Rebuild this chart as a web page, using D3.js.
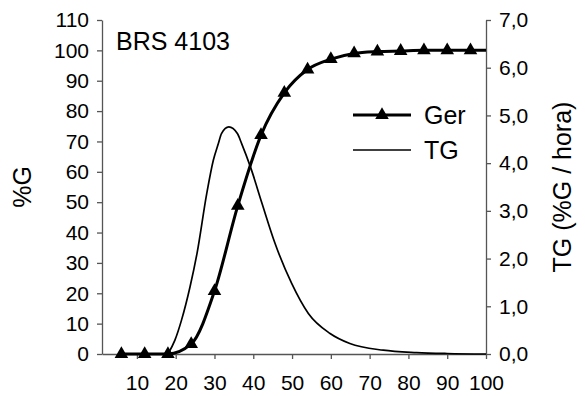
<!DOCTYPE html>
<html>
<head>
<meta charset="utf-8">
<script src="https://cdn.jsdelivr.net/npm/d3@7"></script>
<style>
  html, body { margin: 0; padding: 0; background: #fff; }
  #chart { width: 585px; height: 396px; }
  text { font-family: "Liberation Sans", Arial, sans-serif; fill: #000; }
  .axis path, .axis line { stroke: #555; stroke-width: 1.3; }
  .axis text { font-size: 21px; }
</style>
</head>
<body>
<div id="chart"></div>
<script>
// germination (%G) observed every 6 h
const gerHours = [6, 12, 18, 24, 30, 36, 42, 48, 54, 60, 66, 72, 78, 84, 90, 96];
const gerValues = [0, 0, 0, 3.3, 20.7, 48.8, 72.1, 86, 93.7, 97.1, 99, 99.6, 99.8, 100, 100, 100];
// the fitted Ger line runs on to the end of the axis
const gerEndHour = 100;
const gerEndValue = 100;

// germination rate TG (%G / hora)
const tgHours = [18, 19.8, 21.5, 23.7, 25.5, 28, 29.7, 31, 31.8, 33.7, 35.9, 37, 39.4, 42.2, 45.6, 49.9, 54.2, 59.8, 64.9, 73.5, 82.1, 90, 100];
const tgValues = [0, 0.29, 0.71, 1.41, 2.11, 3.36, 4.06, 4.41, 4.62, 4.76, 4.62, 4.41, 3.89, 3.17, 2.32, 1.48, 0.85, 0.43, 0.22, 0.08, 0.03, 0.01, 0];

const xTicks = [10, 20, 30, 40, 50, 60, 70, 80, 90, 100];
const leftTicks = [0, 10, 20, 30, 40, 50, 60, 70, 80, 90, 100, 110];
const rightTicks = [0, 1, 2, 3, 4, 5, 6, 7];

const title = "BRS 4103";

class GermChart {
  constructor(el) {
    this.el = el;
    this.initChart();
    this.updateChart();
  }

  initChart() {
    const that = this;
    d3.select(`#${this.el} svg`).remove();

    const width = 585;
    const height = 396;
    const margin = { left: 102, right: 99, top: 20, bottom: 42 };

    that.innerWidth = width - margin.left - margin.right;
    that.innerHeight = height - margin.top - margin.bottom;

    const svg = d3
      .select(`#${this.el}`)
      .append("svg")
      .attr("width", width)
      .attr("height", height);

    that.svg = svg;
    that.mainGroup = svg
      .append("g")
      .attr("class", "mainGroup")
      .attr("transform", `translate(${margin.left},${margin.top})`);

    that.xScale = d3.scaleLinear().domain([1, 100]).range([0, that.innerWidth]);
    that.yScale = d3.scaleLinear().domain([0, 110]).range([that.innerHeight, 0]);
    that.y2Scale = d3.scaleLinear().domain([0, 7]).range([that.innerHeight, 0]);

    that.xAxis = d3.axisBottom(that.xScale).tickValues(xTicks).tickSize(5).tickPadding(16).tickSizeOuter(0);
    that.yAxis = d3.axisLeft(that.yScale).tickValues(leftTicks).tickSize(5).tickPadding(8).tickSizeOuter(0);
    that.y2Axis = d3
      .axisRight(that.y2Scale)
      .tickValues(rightTicks)
      .tickSize(5)
      .tickPadding(8)
      .tickSizeOuter(0)
      .tickFormat((d) => d3.format(".1f")(d).replace(".", ","));

    that.mainGroup.append("g").attr("class", "y-axis axis");
    that.mainGroup
      .append("g")
      .attr("class", "y2-axis axis")
      .attr("transform", `translate(${that.innerWidth},0)`);
    that.mainGroup
      .append("g")
      .attr("class", "x-axis axis")
      .attr("transform", `translate(0,${that.innerHeight})`);

    // axis titles
    svg
      .append("text")
      .attr("transform", `translate(22,${margin.top + that.innerHeight / 2}) rotate(-90)`)
      .attr("text-anchor", "middle")
      .attr("dy", "0.35em")
      .style("font-size", "25px")
      .text("%G");

    svg
      .append("text")
      .attr("transform", `translate(562,${margin.top + that.innerHeight / 2}) rotate(-90)`)
      .attr("text-anchor", "middle")
      .attr("dy", "0.35em")
      .style("font-size", "25px")
      .text("TG (%G / hora)");

    svg
      .append("text")
      .attr("x", 116)
      .attr("y", 50)
      .style("font-size", "25px")
      .text(title);
  }

  updateChart() {
    const that = this;
    const g = that.mainGroup;

    const gerLine = d3
      .line()
      .x((d) => that.xScale(d[0]))
      .y((d) => that.yScale(d[1]))
      .curve(d3.curveMonotoneX);

    const tgLine = d3
      .line()
      .x((d) => that.xScale(d[0]))
      .y((d) => that.y2Scale(d[1]))
      .curve(d3.curveMonotoneX);

    const gerPts = gerHours.map((h, i) => [h, gerValues[i]]);
    const tgPts = tgHours.map((h, i) => [h, tgValues[i]]);

    g.append("path")
      .attr("class", "tg")
      .attr("d", tgLine(tgPts))
      .attr("fill", "none")
      .attr("stroke", "#000")
      .attr("stroke-width", 1.7);

    g.append("path")
      .attr("class", "ger")
      .attr("d", gerLine(gerPts.concat([[gerEndHour, gerEndValue]])))
      .attr("fill", "none")
      .attr("stroke", "#000")
      .attr("stroke-width", 3);

    const tri = d3.symbol().type(d3.symbolTriangle).size(80);

    g.selectAll(".mark")
      .data(gerPts)
      .join("path")
      .attr("class", "mark")
      .attr("d", tri)
      .attr("transform", (d) => `translate(${that.xScale(d[0])},${that.yScale(d[1])})`)
      .attr("fill", "#000");

    g.select(".y-axis").call(that.yAxis);
    g.select(".y2-axis").call(that.y2Axis);
    g.select(".x-axis").call(that.xAxis);

    // legend
    const legend = that.svg.append("g").attr("class", "legend");
    const items = [
      { name: "Ger", y: 115, w: 3, mark: true },
      { name: "TG", y: 150, w: 1.7, mark: false },
    ];
    items.forEach((it) => {
      legend
        .append("line")
        .attr("x1", 353)
        .attr("x2", 411)
        .attr("y1", it.y)
        .attr("y2", it.y)
        .attr("stroke", "#000")
        .attr("stroke-width", it.w);
      if (it.mark) {
        legend
          .append("path")
          .attr("d", tri)
          .attr("transform", `translate(382,${it.y})`)
          .attr("fill", "#000");
      }
      legend
        .append("text")
        .attr("x", 424)
        .attr("y", it.y)
        .attr("dy", "0.36em")
        .style("font-size", "25px")
        .text(it.name);
    });
  }
}

new GermChart("chart");
</script>
</body>
</html>
